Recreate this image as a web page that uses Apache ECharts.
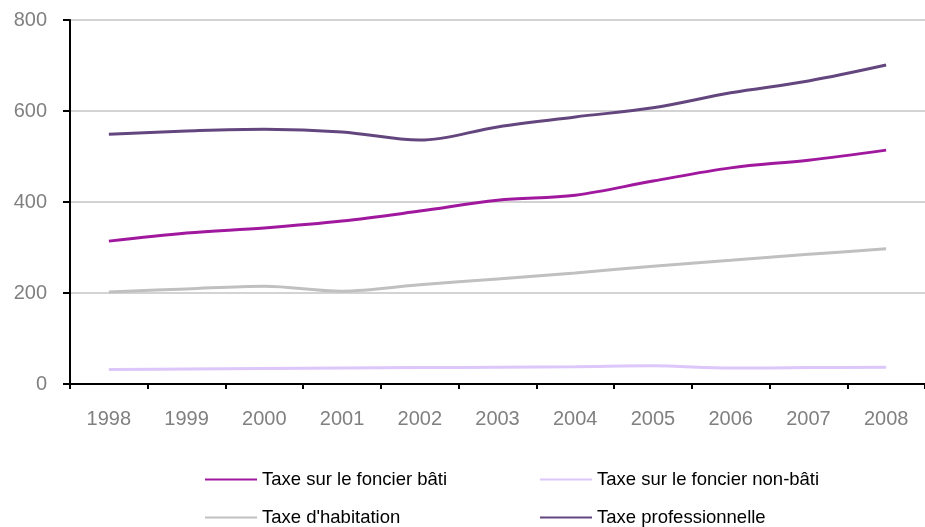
<!DOCTYPE html>
<html><head><meta charset="utf-8">
<script src="https://cdn.jsdelivr.net/npm/echarts@6/dist/echarts.min.js"></script>
<style>html,body{margin:0;padding:0;background:#fff}#c{width:925px;height:527px}</style>
</head><body><div id="c"></div>
<script>
const years = ['1998','1999','2000','2001','2002','2003','2004','2005','2006','2007','2008'];
const yTicks = [0, 200, 400, 600, 800];
const foncierBati = [314, 332, 343, 358, 380, 404, 415, 446, 475, 492, 514];
const foncierNonBati = [32, 33, 34, 35, 36, 37, 38, 40, 35, 36, 37];
const habitation = [202, 209, 215, 204, 218, 231, 244, 259, 272, 285, 297];
const professionnelle = [549, 556, 560, 554, 536, 565, 587, 607, 640, 666, 701];
const names = ['Taxe sur le foncier bâti','Taxe sur le foncier non-bâti',"Taxe d'habitation",'Taxe professionnelle'];
const colors = ['#a0189e','#dcc6fa','#c0c0c0','#64467e'];
const seriesData = [foncierBati, foncierNonBati, habitation, professionnelle];

const chart = echarts.init(document.getElementById('c'), null, {renderer:'canvas'});
const font = 'Liberation Sans, Arial, sans-serif';
const legendPos = [[205,470],[540,470],[205,508],[540,508]];
const drawOrder = [2,1,0,3];
chart.setOption({
  animation:false,
  textStyle:{fontFamily:font},
  grid:{left:70,right:0,top:20,bottom:143,containLabel:false},
  legend: names.map((n,i)=>({
    data:[n], left:legendPos[i][0], top:legendPos[i][1],
    icon:'rect', itemWidth:52, itemHeight:2, itemGap:0,
    textStyle:{fontFamily:font,fontSize:18.5,color:'#000'},
    padding:0, selectedMode:false
  })),
  xAxis:{type:'category',data:years,boundaryGap:true,
    axisLine:{lineStyle:{color:'#000',width:2}},
    axisTick:{show:true,length:5,lineStyle:{color:'#000',width:2},alignWithLabel:false},
    axisLabel:{color:'#808080',fontSize:20,margin:25,fontFamily:font},
    splitLine:{show:false}},
  yAxis:{type:'value',min:yTicks[0],max:yTicks[yTicks.length-1],interval:200,
    axisLine:{show:true,lineStyle:{color:'#000',width:2}},
    axisTick:{show:true,length:7,lineStyle:{color:'#000',width:2}},
    axisLabel:{color:'#808080',fontSize:20,margin:23,fontFamily:font},
    splitLine:{show:true,lineStyle:{color:'#c4c4c4',width:1.5}}},
  series: drawOrder.map(i=>({
    name:names[i], type:'line', data:seriesData[i], smooth:0.35,
    showSymbol:false, symbol:'none', z:3+i,
    lineStyle:{color:colors[i],width:3}, itemStyle:{color:colors[i]}
  }))
});
</script></body></html>
